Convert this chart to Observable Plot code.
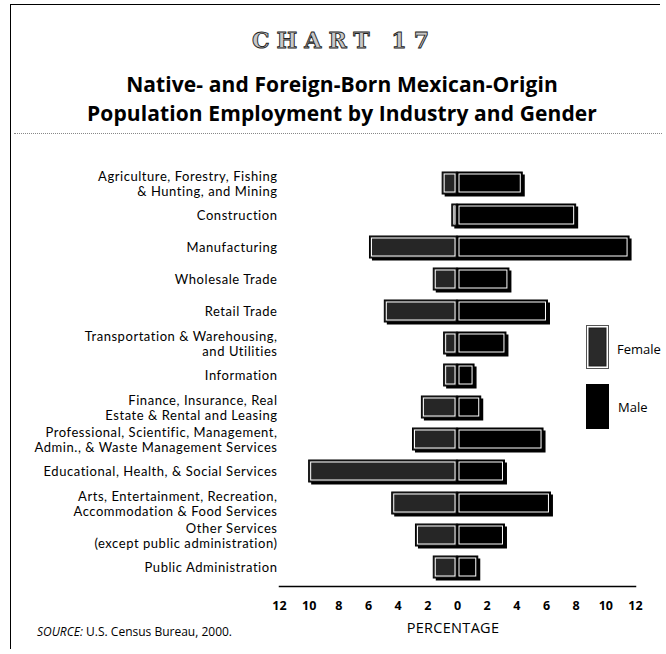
<!DOCTYPE html>
<html>
<head>
<meta charset="utf-8">
<script src="https://cdn.jsdelivr.net/npm/d3@7"></script>
<script src="https://cdn.jsdelivr.net/npm/@observablehq/plot@0.6"></script>
<style>
  html, body { margin: 0; padding: 0; background: #fff; }
  #page { position: relative; width: 666px; height: 654px; overflow: hidden; font-family: "Open Sans", Lato, sans-serif; color: #000; }
  .abs { position: absolute; }
  #chartno { left: 0; width: 688px; top: 27px; text-align: center; font-family: "DejaVu Serif", serif; font-weight: bold; font-size: 22px; letter-spacing: 7px; color: #c8c8c8; -webkit-text-stroke: 0.9px #222; }
  #title { left: 0; width: 684px; top: 70px; text-align: center; font-weight: bold; font-size: 21px; line-height: 28.6px; letter-spacing: 0.1px; }
  #dots { left: 14px; width: 648px; top: 133px; border-top: 1.5px dotted #888; }
  #topline { left: 10px; width: 650px; top: 4px; border-top: 1.5px solid #000; }
  #leftline { left: 10px; top: 4px; height: 645px; border-left: 1.5px solid #000; }
  #plot { left: 0; top: 150px; }
  #plot svg text { letter-spacing: 0.55px; }
  #plot svg g[aria-label="x-axis tick label"] text { letter-spacing: 0; }
  #xlabel { left: 353px; width: 200px; top: 618px; text-align: center; font-size: 14.5px; letter-spacing: 0.3px; }
  #source { left: 37px; top: 623px; font-size: 12px; }
  .key { width: 21px; border: 1px solid #555; }
  .keylab { font-size: 13px; }
</style>
</head>
<body>
<div id="page">
  <div id="topline" class="abs"></div>
  <div id="leftline" class="abs"></div>
  <div id="chartno" class="abs">CHART 17</div>
  <div id="title" class="abs">Native- and Foreign-Born Mexican-Origin<br>Population Employment by Industry and Gender</div>
  <div id="dots" class="abs"></div>
  <div id="plot" class="abs"></div>
  <div id="xlabel" class="abs">PERCENTAGE</div>
  <div id="source" class="abs"><i>SOURCE:</i> U.S. Census Bureau, 2000.</div>
  <div class="abs key" style="left:586px;top:325px;height:42px;background:#2a2a2a;box-shadow: inset 0 0 0 1.5px #fff, inset 0 0 0 3px #222;"></div>
  <div class="abs keylab" style="left:617px;top:340px;">Female</div>
  <div class="abs key" style="left:586px;top:384px;height:43px;background:#000;border-color:#000;"></div>
  <div class="abs keylab" style="left:618px;top:398px;">Male</div>
</div>
<script>
const categories = [
  "Agriculture, Forestry, Fishing\n& Hunting, and Mining",
  "Construction",
  "Manufacturing",
  "Wholesale Trade",
  "Retail Trade",
  "Transportation & Warehousing,\nand Utilities",
  "Information",
  "Finance, Insurance, Real\nEstate & Rental and Leasing",
  "Professional, Scientific, Management,\nAdmin., & Waste Management Services",
  "Educational, Health, & Social Services",
  "Arts, Entertainment, Recreation,\nAccommodation & Food Services",
  "Other Services\n(except public administration)",
  "Public Administration"
];
const female = [1.0, 0.35, 5.9, 1.6, 4.9, 0.9, 0.9, 2.4, 3.0, 10.0, 4.4, 2.8, 1.6];
const male = [4.4, 8.0, 11.6, 3.5, 6.1, 3.3, 1.15, 1.6, 5.8, 3.2, 6.3, 3.2, 1.4];
const xTicks = [-12, -10, -8, -6, -4, -2, 0, 2, 4, 6, 8, 10, 12];

const rows = categories.map((c, i) => ({category: c, female: female[i], male: male[i]}));

const chart = Plot.plot({
  width: 666,
  height: 470,
  marginLeft: 279,
  marginRight: 31,
  marginTop: 14,
  marginBottom: 34,
  style: {fontFamily: "Lato, 'Open Sans', sans-serif", fontSize: "12px", color: "#000", background: "transparent"},
  x: {domain: [-12, 12], ticks: xTicks},
  y: {domain: categories, paddingInner: 0.3, paddingOuter: 0.15, axis: null},
  marks: [
    Plot.barX(rows, {x1: d => -d.female, x2: d => d.male, y: "category", fill: "#000", dx: 2.5, dy: 2.5}),
    Plot.barX(rows, {x1: d => -d.female, x2: 0, y: "category", fill: "#262626", stroke: "#000", strokeWidth: 1}),
    Plot.barX(rows, {x1: 0, x2: d => d.male, y: "category", fill: "#000", stroke: "#000", strokeWidth: 1}),
    Plot.barX(rows, {x1: d => -d.female, x2: 0, y: "category", fill: "none", stroke: "#fff", strokeWidth: 1, inset: 2}),
    Plot.barX(rows, {x1: 0, x2: d => d.male, y: "category", fill: "none", stroke: "#fff", strokeWidth: 1, inset: 2}),
    Plot.text(rows, {y: "category", text: "category", frameAnchor: "left", textAnchor: "end", dx: -2, lineHeight: 1.16, fontSize: 13}),
    Plot.frame({anchor: "bottom", strokeWidth: 1.5}),
    Plot.axisX({ticks: xTicks, tickFormat: d => Math.abs(d), tickSize: 0, tickPadding: 15, label: null, fontSize: 12.5, fontWeight: "bold", fontFamily: "'Open Sans', sans-serif"})
  ]
});
document.getElementById("plot").appendChild(chart);
</script>
</body>
</html>
